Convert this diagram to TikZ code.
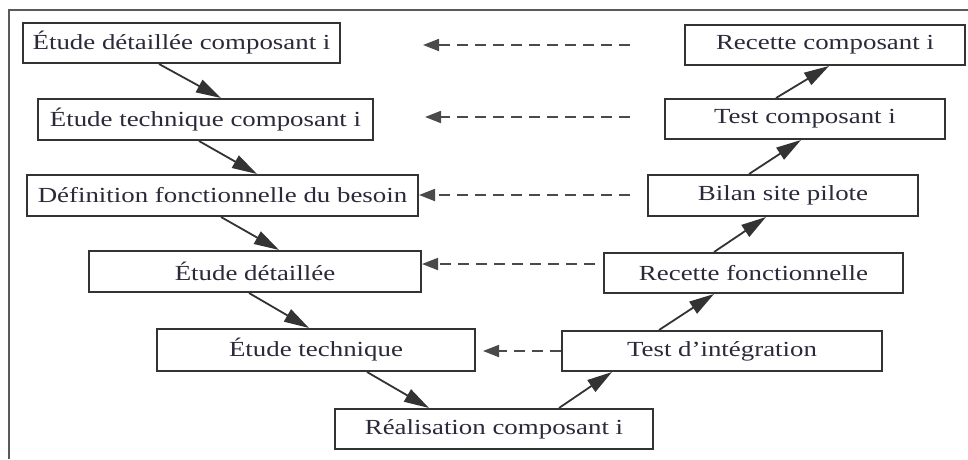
\documentclass[tikz,border=0pt]{standalone}
\usepackage{fontspec}
\setmainfont{Liberation Serif}[FakeStretch=1.25]
\usetikzlibrary{arrows.meta,calc}
\definecolor{ink}{HTML}{333333}
\definecolor{framegray}{HTML}{5A5A5A}
\definecolor{dashgray}{HTML}{4A4A4A}
\definecolor{txt}{HTML}{2A2A3A}

\begin{document}
\begin{tikzpicture}[x=1pt,y=-1pt,
  stage/.style={draw=ink, line width=2pt, inner sep=0pt,
    font=\fontsize{21.5}{24}\selectfont, text=txt},
  flow/.style={draw=ink, line width=1.8pt,
    -{Triangle[length=25pt,width=14pt]}},
  back/.style={draw=dashgray, line width=1.8pt, dash pattern=on 11pt off 7pt,
    -{Triangle[length=16pt,width=12pt]}}]
\useasboundingbox (0,0) rectangle (968,459);
\fill[white] (0,0) rectangle (968,459);

% outer frame (top and left sides)
\draw[framegray, line width=2pt] (968,10) -- (9,10) -- (9,459);

% descending branch
\node[stage, minimum width=317pt, minimum height=40pt] (b1) at (181.5,43) {Étude détaillée composant i};
\node[stage, minimum width=335pt, minimum height=41pt] (b2) at (205.5,119.5) {Étude technique composant i};
\node[stage, minimum width=391pt, minimum height=41pt] (b3) at (222.5,195.5) {Définition fonctionnelle du besoin};
\node[stage, minimum width=332pt, minimum height=41pt] (b4) at (255,271.5) {Étude détaillée};
\node[stage, minimum width=318pt, minimum height=42pt] (b5) at (316,350) {Étude technique};
% bottom
\node[stage, minimum width=318pt, minimum height=40pt] (b6) at (494,429) {Réalisation composant i};
% ascending branch
\node[stage, minimum width=320pt, minimum height=40pt] (b7) at (722,351) {Test d’intégration};
\node[stage, minimum width=299pt, minimum height=40pt] (b8) at (753.5,273) {Recette fonctionnelle};
\node[stage, minimum width=270pt, minimum height=41pt] (b9) at (783,195.5) {Bilan site pilote};
\node[stage, minimum width=280pt, minimum height=40pt] (b10) at (805,119) {Test composant i};
\node[stage, minimum width=280pt, minimum height=40pt] (b11) at (825,45) {Recette composant i};

% solid flow, left side
\draw[flow] ([xshift=137pt]b1.south west) -- ([xshift=184pt]b2.north west);
\draw[flow] ([xshift=162pt]b2.south west) -- ([xshift=231pt]b3.north west);
\draw[flow] ([xshift=195pt]b3.south west) -- ([xshift=191pt]b4.north west);
\draw[flow] ([xshift=161pt]b4.south west) -- ([xshift=153pt]b5.north west);
\draw[flow] ([xshift=211pt]b5.south west) -- ([xshift=95pt]b6.north west);
% solid flow, right side
\draw[flow] ([xshift=225pt]b6.north west) -- ([xshift=51pt]b7.south west);
\draw[flow] ([xshift=98pt]b7.north west) -- ([xshift=111pt]b8.south west);
\draw[flow] ([xshift=111pt]b8.north west) -- ([xshift=119pt]b9.south west);
\draw[flow] ([xshift=102pt]b9.north west) -- ([xshift=137pt]b10.south west);
\draw[flow] ([xshift=112pt]b10.north west) -- ([xshift=145pt]b11.south west);

% dashed correspondences
\coordinate (d1s) at (630,45);  \coordinate (d1e) at (423,45);
\coordinate (d2s) at (630,117); \coordinate (d2e) at (425,117);
\coordinate (d3s) at (630,195);
\coordinate (d4s) at (595,264);
\draw[back] (d1s) -- (d1e);
\draw[back] (d2s) -- (d2e);
\draw[back] (d3s) -- (d3s -| b3.east);
\draw[back] (d4s) -- (d4s -| b4.east);
\draw[back, shorten >=7pt] (b7.west) -- (b7.west -| b5.east);
\end{tikzpicture}
\end{document}
